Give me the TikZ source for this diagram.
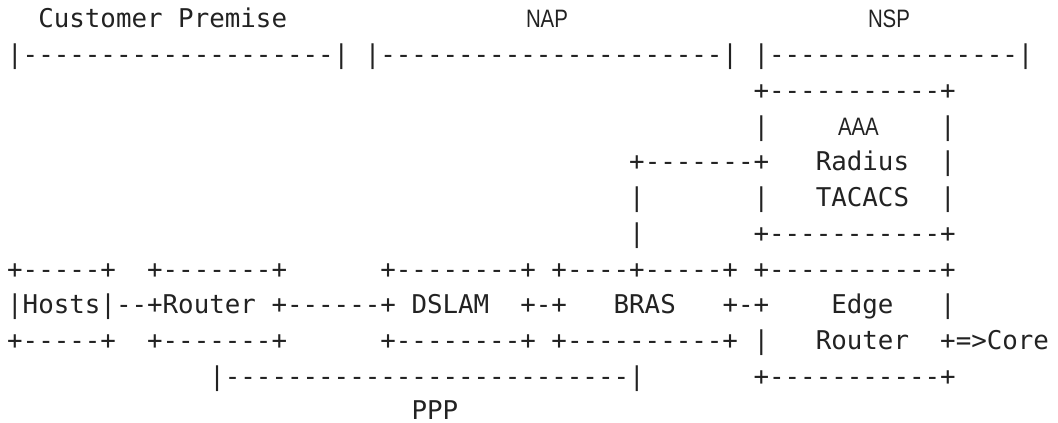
\documentclass[tikz,border=0pt]{standalone}
\usepackage{fontspec}
\newfontfamily\monofnt[Ligatures=TeXOff]{DejaVu Sans Mono}
\newfontfamily\labelsans{Liberation Sans}
\definecolor{ink}{HTML}{222222}
\tikzset{
  asc/.style={font=\monofnt\fontsize{19.37pt}{23pt}\selectfont, inner sep=0pt, outer sep=0pt, anchor=base west, text=ink},
  sansl/.style={inner sep=0pt, outer sep=0pt, anchor=base west, text=ink}
}
\newcommand\cellnode[4]{\node[asc] (#1) at ({7.2+15.55*(#2)},{28+35.75*(#3)}) {#4};}
\newcommand\sansnode[4]{\node[sansl] (#1) at ({#2},{28+35.75*(#3)}) {\labelsans\fontsize{18.9pt}{23pt}\selectfont\scalebox{0.81}[1]{#4}};}
\begin{document}
\begin{tikzpicture}[x=0.75pt,y=-0.75pt]
\useasboundingbox (0,0) rectangle (1058,423);
% row 0: domain labels
\cellnode{cp}{2}{0}{Customer Premise}
\sansnode{nap}{526}{0}{NAP}
\sansnode{nsp}{868}{0}{NSP}
% row 1: domain brackets
\cellnode{cpbr}{0}{1}{|--------------------|}
\cellnode{napbr}{23}{1}{|----------------------|}
\cellnode{nspbr}{48}{1}{|----------------|}
% AAA box
\cellnode{aaatop}{48}{2}{+-----------+}
\cellnode{aaal3}{48}{3}{|}
\sansnode{aaa}{838}{3}{AAA}
\cellnode{aaar3}{60}{3}{|}
\cellnode{link4}{40}{4}{+-------+}
\cellnode{radius}{52}{4}{Radius}
\cellnode{aaar4}{60}{4}{|}
\cellnode{linkv5}{40}{5}{|}
\cellnode{aaal5}{48}{5}{|}
\cellnode{tacacs}{52}{5}{TACACS}
\cellnode{aaar5}{60}{5}{|}
\cellnode{linkv6}{40}{6}{|}
\cellnode{aaabot}{48}{6}{+-----------+}
% row 7: box tops
\cellnode{hoststop}{0}{7}{+-----+}
\cellnode{routertop}{9}{7}{+-------+}
\cellnode{dslamtop}{24}{7}{+--------+}
\cellnode{brastop}{35}{7}{+----+-----+}
\cellnode{edgetop}{48}{7}{+-----------+}
% row 8: box contents
\cellnode{hosts}{0}{8}{|Hosts|--+Router}
\cellnode{rdlink}{17}{8}{+------+}
\cellnode{dslam}{26}{8}{DSLAM}
\cellnode{dblink}{33}{8}{+-+}
\cellnode{bras}{39}{8}{BRAS}
\cellnode{belink}{46}{8}{+-+}
\cellnode{edge}{53}{8}{Edge}
\cellnode{edger8}{60}{8}{|}
% row 9: box bottoms
\cellnode{hostsbot}{0}{9}{+-----+}
\cellnode{routerbot}{9}{9}{+-------+}
\cellnode{dslambot}{24}{9}{+--------+}
\cellnode{brasbot}{35}{9}{+----------+}
\cellnode{edgel9}{48}{9}{|}
\cellnode{edgerouter}{52}{9}{Router}
\cellnode{core}{60}{9}{+=>Core}
% row 10: PPP span
\cellnode{pppbr}{13}{10}{|--------------------------|}
\cellnode{edgebot}{48}{10}{+-----------+}
% row 11
\node[asc] (ppp) at ({7.2+15.55*26},{420}) {PPP};
\end{tikzpicture}
\end{document}
